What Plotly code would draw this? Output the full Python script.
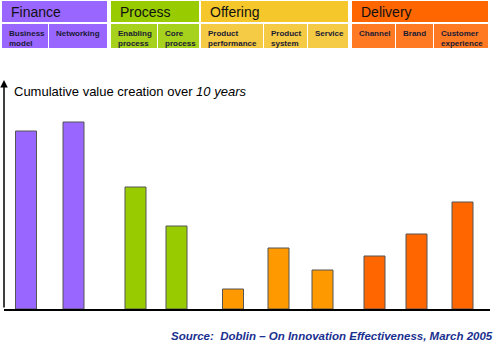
import plotly.graph_objects as go

# ---- data ----
categories = ["Business model", "Networking", "Enabling process", "Core process",
              "Product performance", "Product system", "Service",
              "Channel", "Brand", "Customer experience"]
groups = ["Finance", "Process", "Offering", "Delivery"]
group_of = [0, 0, 1, 1, 2, 2, 2, 3, 3, 3]
values = [178, 187, 122, 83, 20, 61, 39, 53, 75, 107]
# category positions along the x axis
cat_pos = [26, 73.5, 135.5, 176.5, 233, 278.5, 322.5, 374.5, 416.5, 462.5]
sub_labels = ["Business<br>model", "Networking", "Enabling<br>process", "Core<br>process",
              "Product<br>performance", "Product<br>system", "Service",
              "Channel", "Brand", "Customer<br>experience"]

# ---- style ----
W, H = 500, 346
bar_colors = ["#9966FF", "#99CC00", "#FF9900", "#FF6600"]
head_colors = ["#9966FF", "#99CC00", "#F5C72A", "#FF6600"]
sub_colors = ["#9966FF", "#A6D11C", "#F5CB45", "#FF7A22"]
group_box = [(2, 107), (111, 199), (201, 348), (352, 488)]
sub_box = [(2, 48), (49, 107), (111, 157), (158, 199), (201, 263), (264, 307),
           (308, 348), (352, 395), (396, 433), (434, 488)]

def px(x):
    return x / W

def py(y):
    return 1 - y / H

fig = go.Figure()
fig.add_trace(go.Bar(
    x=cat_pos, y=values, width=21,
    marker=dict(color=[bar_colors[g] for g in group_of],
                line=dict(color="#555555", width=1)),
    hoverinfo="skip",
))

shapes = []
annotations = []
for i, g in enumerate(groups):
    x0, x1 = group_box[i]
    shapes.append(dict(type="rect", xref="paper", yref="paper",
                       x0=px(x0), x1=px(x1), y0=py(22), y1=py(1),
                       fillcolor=head_colors[i], line=dict(width=0), layer="above"))
    annotations.append(dict(xref="paper", yref="paper", x=px(x0 + 7), y=py(12),
                            text=g, showarrow=False, xanchor="left", yanchor="middle",
                            font=dict(family="Liberation Sans, Arial", size=14, color="#111111")))
for j, lab in enumerate(sub_labels):
    x0, x1 = sub_box[j]
    shapes.append(dict(type="rect", xref="paper", yref="paper",
                       x0=px(x0), x1=px(x1), y0=py(48), y1=py(24),
                       fillcolor=sub_colors[group_of[j]], line=dict(width=0), layer="above"))
    annotations.append(dict(xref="paper", yref="paper", x=px(x0 + 5), y=py(27),
                            text="<b>" + lab + "</b>", showarrow=False,
                            xanchor="left", yanchor="top", align="left",
                            font=dict(family="Liberation Sans, Arial", size=8, color="#1a1a33")))

# y axis arrow
annotations.append(dict(xref="paper", yref="paper", x=px(4), y=py(80),
                        ax=0, ay=229, axref="pixel", ayref="pixel",
                        showarrow=True, arrowhead=2, arrowsize=1, arrowwidth=1.5,
                        arrowcolor="#000000", text=""))
# chart title
annotations.append(dict(xref="paper", yref="paper", x=px(12), y=py(92),
                        text="Cumulative value creation over <i>10 years</i>",
                        showarrow=False, xanchor="left", yanchor="middle",
                        font=dict(family="Liberation Sans, Arial", size=13, color="#000000")))
# source
annotations.append(dict(xref="paper", yref="paper", x=px(495), y=py(336),
                        text="<b><i>Source:  Doblin – On Innovation Effectiveness, March 2005</i></b>",
                        showarrow=False, xanchor="right", yanchor="middle",
                        font=dict(family="Liberation Sans, Arial", size=11.5, color="#1a3090")))

fig.update_layout(
    width=W, height=H,
    margin=dict(l=0, r=0, t=0, b=0),
    paper_bgcolor="white", plot_bgcolor="white",
    showlegend=False,
    shapes=shapes, annotations=annotations,
    xaxis=dict(domain=[px(4), px(490)], range=[4, 490], showgrid=False,
               zeroline=False, showticklabels=False, ticks="",
               showline=True, linecolor="#000000", linewidth=2, fixedrange=True),
    yaxis=dict(domain=[py(309), py(80)], range=[0, 229], showgrid=False,
               zeroline=False, showticklabels=False, ticks="", showline=False,
               fixedrange=True),
)

fig.write_html("out.html")
